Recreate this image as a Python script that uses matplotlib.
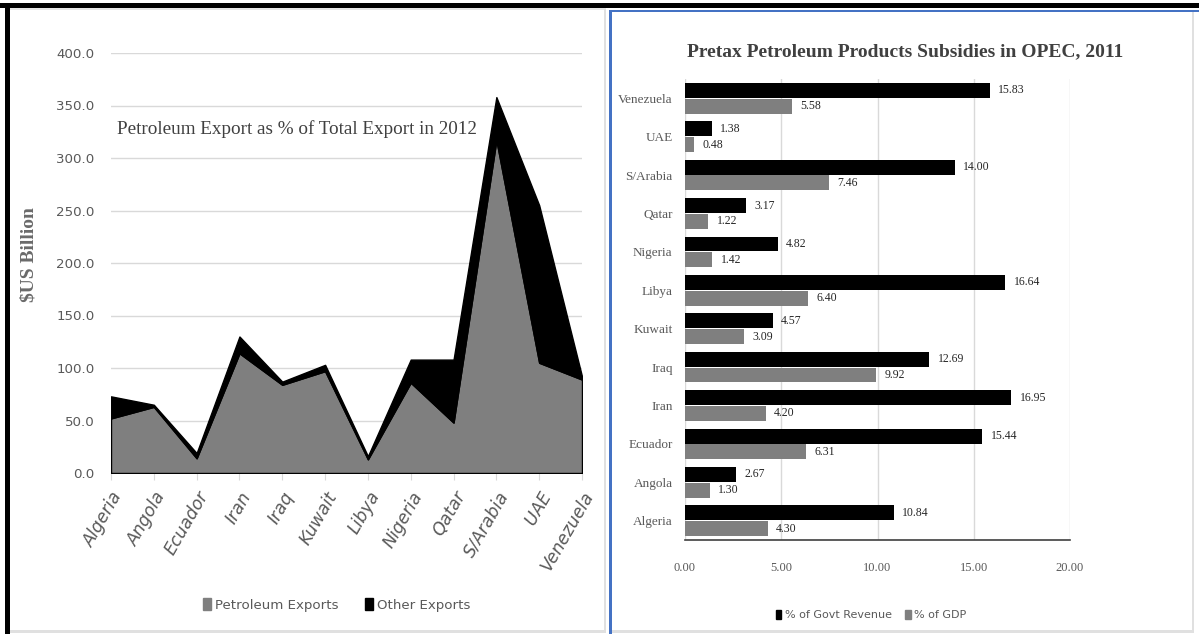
import numpy as np
import matplotlib.pyplot as plt
from matplotlib.patches import Rectangle, Patch
from matplotlib import font_manager

# Left chart data ($US billion, 2012)
countries = ["Algeria", "Angola", "Ecuador", "Iran", "Iraq", "Kuwait", "Libya",
             "Nigeria", "Qatar", "S/Arabia", "UAE", "Venezuela"]
petroleum_exports = [52, 63, 14, 114, 84, 97, 13, 86, 48, 317, 105, 89]
other_exports = [21, 2, 5, 16, 3, 6, 3, 22, 60, 41, 150, 3]

# Right chart data (pretax subsidies, 2011)
sub_countries = ["Algeria", "Angola", "Ecuador", "Iran", "Iraq", "Kuwait", "Libya",
                 "Nigeria", "Qatar", "S/Arabia", "UAE", "Venezuela"]
pct_govt_revenue = [10.84, 2.67, 15.44, 16.95, 12.69, 4.57, 16.64, 4.82, 3.17, 14.00, 1.38, 15.83]
pct_gdp = [4.30, 1.30, 6.31, 4.20, 9.92, 3.09, 6.40, 1.42, 1.22, 7.46, 0.48, 5.58]

W, H = 1199, 634
GRAY = "#7f7f7f"
TXT = "#595959"
GRID = "#d9d9d9"

names = {f.name for f in font_manager.fontManager.ttflist}
NARROW = "Liberation Sans Narrow" if "Liberation Sans Narrow" in names else "DejaVu Sans"
nscale = 1.0 if NARROW == "Liberation Sans Narrow" else 0.8
SERIF = "Liberation Serif"


def box(x0, y0, x1, y1):
    # pixel box (top-left origin) -> figure fraction rect
    return [x0 / W, 1 - y1 / H, (x1 - x0) / W, (y1 - y0) / H]


fig = plt.figure(figsize=(W / 100, H / 100), dpi=100)

# ---------------- left: stacked area ----------------
ax1 = fig.add_axes(box(111, 53, 582, 473))
x = np.arange(len(countries))
ax1.stackplot(x, petroleum_exports, other_exports, colors=[GRAY, "black"],
              edgecolor="black", linewidth=1.0)
ax1.set_xlim(0, len(countries) - 1)
ax1.set_ylim(0, 400)
ax1.set_yticks(np.arange(0, 401, 50))
ax1.set_yticklabels([f"{v:.1f}" for v in np.arange(0, 401, 50)],
                    family=NARROW, fontsize=12 * nscale, color=TXT)
ax1.set_xticks(x)
ax1.set_xticklabels(countries, rotation=60, ha="right", rotation_mode="anchor",
                    family=NARROW, fontsize=15.5 * nscale, color=TXT, fontstyle="oblique")
ax1.tick_params(axis="y", length=0, pad=12)
ax1.tick_params(axis="x", length=5, color=GRID, pad=6)
ax1.grid(axis="y", color=GRID, linewidth=1)
ax1.set_axisbelow(True)
for s in ax1.spines.values():
    s.set_visible(False)
ax1.set_ylabel("$US Billion", family=SERIF, fontsize=14, fontweight="bold",
               color="#6a6a6a")
ax1.yaxis.set_label_coords((38 - 111) / 471, 0.52)
ax1.text(0.012, 0.82, "Petroleum Export as % of Total Export in 2012",
         transform=ax1.transAxes, family=SERIF, fontsize=13.8, color="#404040",
         va="center", ha="left")

fig.legend(handles=[Patch(color=GRAY, label="Petroleum Exports"),
                    Patch(color="black", label="Other Exports")],
           loc="center", bbox_to_anchor=(337 / W, 1 - 605 / H), ncol=2, frameon=False,
           handlelength=0.6, handleheight=0.9, handletextpad=0.3, columnspacing=2.0,
           prop={"family": NARROW, "size": 12 * nscale}, labelcolor=TXT)

# ---------------- right: horizontal bars ----------------
ax2 = fig.add_axes(box(685, 79, 1070, 540))
y = np.arange(len(sub_countries))
bh = 0.39
ax2.barh(y + bh / 2 + 0.01, pct_govt_revenue, height=bh, color="black")
ax2.barh(y - bh / 2 - 0.01, pct_gdp, height=bh, color=GRAY)
for yi, v in zip(y, pct_govt_revenue):
    ax2.annotate(f"{v:.2f}", (v, yi + bh / 2 + 0.01), xytext=(6, 0),
                 textcoords="offset points", va="center", ha="left",
                 family=SERIF, fontsize=8.5, color="#262626")
for yi, v in zip(y, pct_gdp):
    ax2.annotate(f"{v:.2f}", (v, yi - bh / 2 - 0.01), xytext=(6, 0),
                 textcoords="offset points", va="center", ha="left",
                 family=SERIF, fontsize=8.5, color="#262626")
ax2.set_xlim(0, 20)
ax2.set_ylim(-0.5, len(sub_countries) - 0.5)
ax2.set_xticks(np.arange(0, 21, 5))
ax2.set_xticklabels([f"{v:.2f}" for v in np.arange(0, 21, 5)],
                    family=SERIF, fontsize=9, color=TXT)
ax2.set_yticks(y)
ax2.set_yticklabels(sub_countries, family=SERIF, fontsize=9.5, color=TXT)
ax2.tick_params(axis="both", length=0)
ax2.tick_params(axis="x", pad=16)
ax2.tick_params(axis="y", pad=9)
ax2.grid(axis="x", color=GRID, linewidth=1)
ax2.set_axisbelow(True)
for k in ["top", "right", "left"]:
    ax2.spines[k].set_visible(False)
ax2.spines["bottom"].set_color("#404040")
ax2.spines["bottom"].set_linewidth(1.2)

fig.text(905 / W, 1 - 52 / H, "Pretax Petroleum Products Subsidies in OPEC, 2011",
         family=SERIF, fontsize=14, fontweight="bold", color="#404040",
         ha="center", va="center")

fig.legend(handles=[Patch(color="black", label="% of Govt Revenue"),
                    Patch(color=GRAY, label="% of GDP")],
           loc="center", bbox_to_anchor=(871 / W, 1 - 615 / H), ncol=2, frameon=False,
           handlelength=0.5, handleheight=0.9, handletextpad=0.3, columnspacing=1.2,
           prop={"family": NARROW, "size": 10 * nscale}, labelcolor=TXT)

# ---------------- frame / panel borders ----------------
def rect(x0, y0, x1, y1, color):
    fig.add_artist(Rectangle((x0 / W, 1 - y1 / H), (x1 - x0) / W, (y1 - y0) / H,
                             transform=fig.transFigure, color=color, lw=0))

rect(0, 3, W, 8, "black")          # top bar
rect(5, 3, 10, H, "black")         # left bar
rect(10, 8, 606, 10, "#e6e6e6")    # left panel top edge
rect(604, 9, 606, 632, "#e0e0e0")  # left panel right edge
rect(10, 630, 606, 633, "#e0e0e0") # left panel bottom edge
rect(609, 10, 612, H, "#4472c4")   # right panel blue left
rect(609, 10, W, 12, "#4472c4")    # right panel blue top
rect(1192, 12, 1194, 632, "#e0e0e0")
rect(612, 630, 1194, 633, "#e0e0e0")

fig.savefig("out.png", dpi=100)
